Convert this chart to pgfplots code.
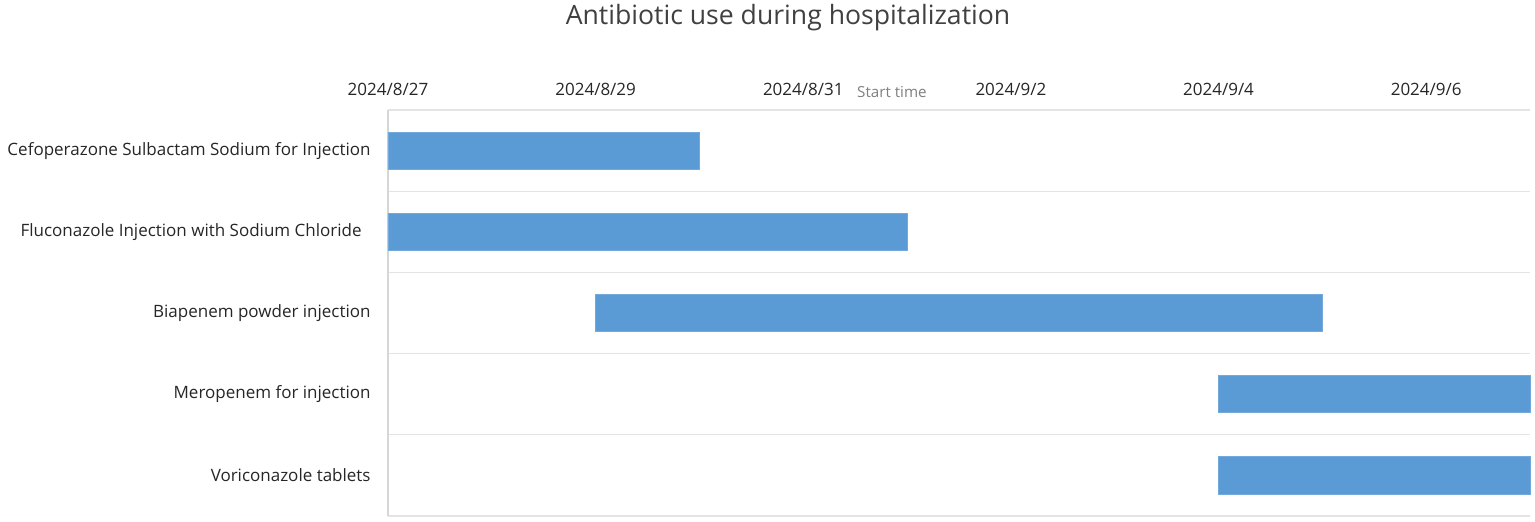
\documentclass[border=0pt]{standalone}
\usepackage{pgfplots}
\pgfplotsset{compat=1.18}
\usepackage{fontspec}
\setmainfont{Open Sans}
\definecolor{barblue}{HTML}{5B9BD5}
\definecolor{gridgray}{HTML}{E4E4E4}
\definecolor{axisgray}{HTML}{D6D6D6}
\definecolor{txt}{HTML}{262626}
\definecolor{titletxt}{HTML}{404040}
\definecolor{lblgray}{HTML}{808080}
\begin{document}
\begin{tikzpicture}
\begin{axis}[
  scale only axis, width=571bp, height=203bp,
  xmin=0, xmax=11, ymin=0, ymax=5, y dir=reverse,
  xbar stacked, bar width=0.456,
  xtick={0,2,4,6,8,10},
  xticklabels={2024/8/27,2024/8/29,2024/8/31,2024/9/2,2024/9/4,2024/9/6},
  xticklabel pos=top,
  xticklabel style={anchor=base, inner sep=0pt, yshift=7.5bp},
  ytick={0.5,1.5,2.5,3.5,4.5},
  yticklabels={Cefoperazone Sulbactam Sodium for Injection,
    Fluconazole Injection with Sodium Chloride\hspace*{4.5bp},
    Biapenem powder injection,
    Meropenem for injection,
    Voriconazole tablets},
  yticklabel style={anchor=east, inner sep=0pt, xshift=-8.5bp},
  minor ytick={0,1,2,3,4,5},
  ymajorgrids=false, yminorgrids=true,
  minor grid style={gridgray, line width=0.6bp},
  major tick length=0pt, minor tick length=0pt,
  axis line style={draw=none},
  tick label style={font=\fontsize{8.5bp}{10bp}\selectfont, text=txt},
  clip=false,
]
\addplot[draw=none, fill=none] coordinates {(0,0.5) (0,1.5) (2,2.5) (8,3.5) (8,4.5)};
\addplot[fill=barblue, draw=barblue!85!white, line width=0.4bp] coordinates {(3,0.5) (5,1.5) (7,2.5) (3,3.5) (3,4.5)};
\draw[axisgray, line width=0.6bp] (axis description cs:0,0) -- (axis description cs:0,1);
\node[anchor=base, inner sep=0pt, text=lblgray, font=\fontsize{7.6bp}{9bp}\selectfont] at (axis description cs:0.4413,1) [yshift=6.5bp] {Start time};
\node[anchor=base, inner sep=0pt, text=titletxt, font=\fontsize{13.3bp}{15bp}\selectfont] at (axis description cs:0.3503,1) [yshift=43bp] {Antibiotic use during hospitalization};
\coordinate (bl) at (axis description cs:-0.33975,-0.01478);
\coordinate (tr) at (axis description cs:1.00438,1.27094);
\end{axis}
\pgfresetboundingbox
\path (bl) rectangle (tr);
\end{tikzpicture}
\end{document}
